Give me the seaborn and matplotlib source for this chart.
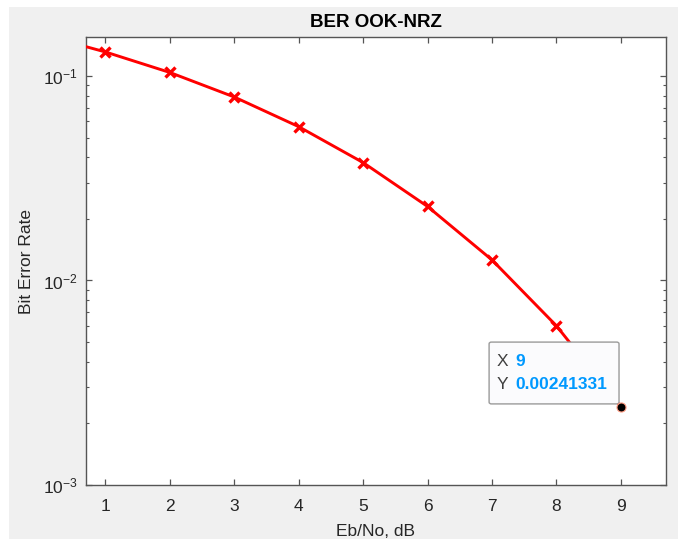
import matplotlib
matplotlib.use("Agg")
import matplotlib.pyplot as plt
import pandas as pd
import seaborn as sns
from matplotlib.patches import FancyBboxPatch, Rectangle

# values
ebno_db = [1, 2, 3, 4, 5, 6, 7, 8, 9]
ber = [0.131, 0.104, 0.0789, 0.0565, 0.0377, 0.0230, 0.0126, 0.0060, 0.00241331]
# the curve runs on past the first marker to the left edge of the axes
line_x = [0.7] + ebno_db
line_y = [0.139] + ber
tip_x = "9"
tip_y = "0.00241331"

sns.set_theme(style="ticks")
plt.rcParams["font.family"] = ["Liberation Sans", "DejaVu Sans"]
plt.rcParams["mathtext.fontset"] = "custom"
plt.rcParams["mathtext.rm"] = "Liberation Sans"
plt.rcParams["mathtext.it"] = "Liberation Sans"

line_df = pd.DataFrame({"x": line_x, "y": line_y})
mark_df = pd.DataFrame({"x": ebno_db, "y": ber})

fig = plt.figure(figsize=(6.78, 5.39), dpi=100, facecolor="#f0f0f0")
# thin white margins (top and left) of the screenshot
fig.patches.append(Rectangle((0, 0), 9 / 678, 1, transform=fig.transFigure,
                             facecolor="white", edgecolor="none"))
fig.patches.append(Rectangle((0, 1 - 7 / 539), 1, 7 / 539, transform=fig.transFigure,
                             facecolor="white", edgecolor="none"))
ax = fig.add_axes([86 / 678, 54 / 539, 580 / 678, 448 / 539])
ax.set_facecolor("white")

sns.lineplot(data=line_df, x="x", y="y", color="#ff0000", linewidth=2.1, ax=ax, zorder=3)
# the last marker sits under the data tip dot
ax.plot(mark_df["x"][:-1], mark_df["y"][:-1], linestyle="none", marker="x", markersize=7,
        markeredgewidth=2.4, color="#ff0000", zorder=4)

ax.set_yscale("log")
ax.set_xlim(0.7, 9.7)
ax.set_ylim(1e-3, 0.155)
ax.set_xticks(ebno_db)

ax.set_title("BER OOK-NRZ", fontsize=13.5, fontweight="bold", color="black", pad=7)
ax.set_xlabel("Eb/No, dB", fontsize=12.5, color="#262626", labelpad=7)
ax.set_ylabel("Bit Error Rate", fontsize=12.5, color="#262626", labelpad=6)

for side in ["top", "right", "bottom", "left"]:
    ax.spines[side].set_visible(True)
    ax.spines[side].set_color("#555555")
    ax.spines[side].set_linewidth(1.0)
ax.tick_params(which="major", direction="in", length=4, width=0.9, color="#555555",
               top=True, right=True, labelsize=12.5, labelcolor="#262626", pad=10)
ax.tick_params(axis="y", which="major", pad=6)
ax.tick_params(which="minor", direction="in", length=2.5, width=0.8, color="#555555",
               top=False, right=True)
ax.grid(False)

# data tip
ax.plot([ebno_db[-1]], [ber[-1]], marker="o", markersize=6.5, color="black",
        markeredgecolor="#ff9a80", markeredgewidth=0.8, linestyle="none", zorder=6)
tip = FancyBboxPatch((0.695, 0.181), 0.224, 0.138, transform=ax.transAxes,
                     boxstyle="round,pad=0,rounding_size=0.004", facecolor="#fbfbfd",
                     edgecolor="#9a9a9a", linewidth=1.0, zorder=5)
ax.add_patch(tip)
ax.text(0.708, 0.276, "X", transform=ax.transAxes, fontsize=12.5, color="#404040",
        va="center", ha="left", zorder=7)
ax.text(0.741, 0.276, tip_x, transform=ax.transAxes, fontsize=12.5, color="#0099ff",
        fontweight="bold", va="center", ha="left", zorder=7)
ax.text(0.708, 0.224, "Y", transform=ax.transAxes, fontsize=12.5, color="#404040",
        va="center", ha="left", zorder=7)
ax.text(0.741, 0.224, tip_y, transform=ax.transAxes, fontsize=12.5, color="#0099ff",
        fontweight="bold", va="center", ha="left", zorder=7)

fig.savefig("out.png", dpi=100, facecolor=fig.get_facecolor())
